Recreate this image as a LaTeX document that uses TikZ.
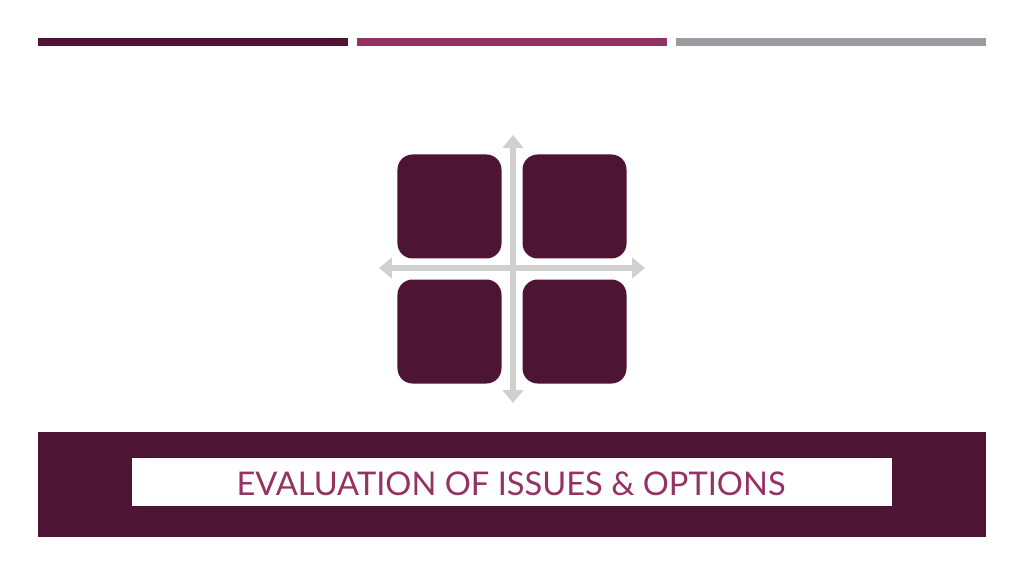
\documentclass[tikz,border=0pt]{standalone}
\usepackage{fontspec}
\setmainfont{Lato}
\usepackage{tikz}
\usetikzlibrary{arrows.meta, positioning, matrix}

\definecolor{plum}{HTML}{4D1434}
\definecolor{berry}{HTML}{953264}
\definecolor{steel}{HTML}{9A9CA0}
\definecolor{axisgray}{HTML}{D0D0D0}

\begin{document}
\begin{tikzpicture}[x=0.025cm, y=-0.025cm,
    topbar/.style={fill=#1, draw=none},
    quad/.style={fill=plum, draw=none, rounded corners=0.38cm, minimum size=2.6cm, inner sep=0pt},
    axisline/.style={draw=axisgray, line width=0.14cm, {Triangle[width=0.5cm, length=0.32cm]}-{Triangle[width=0.5cm, length=0.32cm]}}
  ]
    \useasboundingbox[fill=white] (0,0) rectangle (1024,576);

    % header bars
    \fill[topbar=plum] (38,38) rectangle (348,46);
    \fill[topbar=berry] (357,38) rectangle (667,46);
    \fill[topbar=steel] (676,38) rectangle (986,46);

    % axes behind the grid
    \coordinate (north) at (513,135);
    \coordinate (south) at (513,403);
    \coordinate (west) at (379,268);
    \coordinate (east) at (645,268);
    \draw[axisline] (south) -- (north);
    \draw[axisline] (west) -- (east);

    \matrix (grid) at (512,269) [matrix of nodes,
      nodes={quad},
      row sep=0.525cm,
      column sep=0.525cm,
      ampersand replacement=\&
      ] {
      |(q1)| \& |(q2)| \\
      |(q3)| \& |(q4)| \\
    };

    % title banner
    \node[fill=plum, minimum width=23.7cm, minimum height=2.625cm, inner sep=0pt] (banner) at (512,484.5) {};
    \node[fill=white, minimum width=19cm, minimum height=1.2cm, inner sep=0pt] (titlebox) at (512,482) {};
    \node[text=berry, font=\fontsize{23.2}{27}\selectfont, anchor=base] (title) at (511,495) {EVALUATION OF ISSUES \& OPTIONS};
  \end{tikzpicture}
\end{document}
